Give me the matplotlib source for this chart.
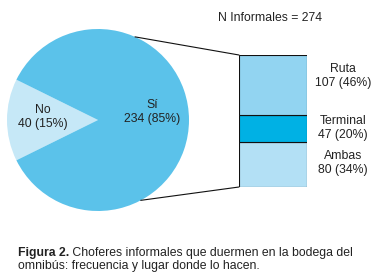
import matplotlib
matplotlib.use("Agg")
import matplotlib.pyplot as plt
from matplotlib.patches import ConnectionPatch
import numpy as np

plt.rcParams["font.family"] = ["Liberation Sans", "DejaVu Sans"]

# data
pie_labels = ["No", "Sí"]
pie_counts = [40, 234]
pie_colors = ["#c6e8f7", "#5bc2ea"]

place_labels = ["Ambas", "Terminal", "Ruta"]   # bottom -> top
place_counts = [80, 47, 107]
place_colors = ["#b3e0f5", "#00b1e4", "#92d4f1"]

total = sum(pie_counts)
title = f"N Informales = {total}"
caption_bold = "Figura 2."
caption_rest = (" Choferes informales que duermen en la bodega del\n"
                "omnibús: frecuencia y lugar donde lo hacen.")

W, H = 378, 277
FS = 8.8
fig = plt.figure(figsize=(W / 100, H / 100), dpi=100)
ax = fig.add_axes([0, 0, 1, 1])

# pie, "No" slice centred on the left
cx, cy, r = 98, H - 120, 91
start = 180 - pie_counts[0] / total * 180
ax.pie(pie_counts, colors=pie_colors, startangle=start, counterclock=True,
       center=(cx, cy), radius=r, frame=True,
       wedgeprops=dict(linewidth=0))
ax.set_xlim(0, W)
ax.set_ylim(0, H)
ax.axis("off")

txt = dict(fontsize=FS, color="#222222", ha="center", va="center",
           linespacing=1.25)
no_pct = round(100 * pie_counts[0] / total)
si_pct = round(100 * pie_counts[1] / total)
ax.text(43, H - 117, f"{pie_labels[0]}\n{pie_counts[0]} ({no_pct}%)", **txt)
ax.text(152, H - 112, f"{pie_labels[1]}\n{pie_counts[1]} ({si_pct}%)", **txt)
ax.text(270, H - 18, title, **txt)

# stacked bar for the "Sí" breakdown
bx = fig.add_axes([239 / W, (H - 187) / H, 68 / W, 132 / H])
bottom = 0
for lab, n, col in zip(place_labels, place_counts, place_colors):
    bx.bar(0, n, width=1, bottom=bottom, color=col, edgecolor="#111111",
           linewidth=0.8)
    bottom += n
bx.set_xlim(-0.5, 0.5)
bx.set_ylim(0, sum(place_counts))
bx.axis("off")

sub_total = sum(place_counts)
label_y = {"Ruta": H - 76, "Terminal": H - 128, "Ambas": H - 163}
for lab, n in zip(place_labels, place_counts):
    pct = round(100 * n / sub_total)
    ax.text(343, label_y[lab], f"{lab}\n{n} ({pct}%)", **txt)

# connector lines from pie edge to bar corners
for ang, corner in [(66, (0, 1)), (-62, (0, 0))]:
    p = (cx + r * np.cos(np.radians(ang)), cy + r * np.sin(np.radians(ang)))
    con = ConnectionPatch(xyA=p, coordsA=ax.transData, xyB=corner,
                          coordsB=bx.transAxes, color="#111111", linewidth=0.8)
    fig.add_artist(con)

# caption
cap_x, cap_y = 18, H - 256
t1 = ax.text(cap_x, cap_y, caption_bold, fontsize=FS, fontweight="bold",
             color="#222222", ha="left", va="baseline")
fig.canvas.draw()
ext = t1.get_window_extent(renderer=fig.canvas.get_renderer())
ax.text(ext.x1 - 0.5, cap_y, caption_rest.split("\n")[0], fontsize=FS,
        color="#222222", ha="left", va="baseline")
ax.text(cap_x, cap_y - 12.5, caption_rest.split("\n")[1], fontsize=FS,
        color="#222222", ha="left", va="baseline")

fig.savefig("out.png", dpi=100)
